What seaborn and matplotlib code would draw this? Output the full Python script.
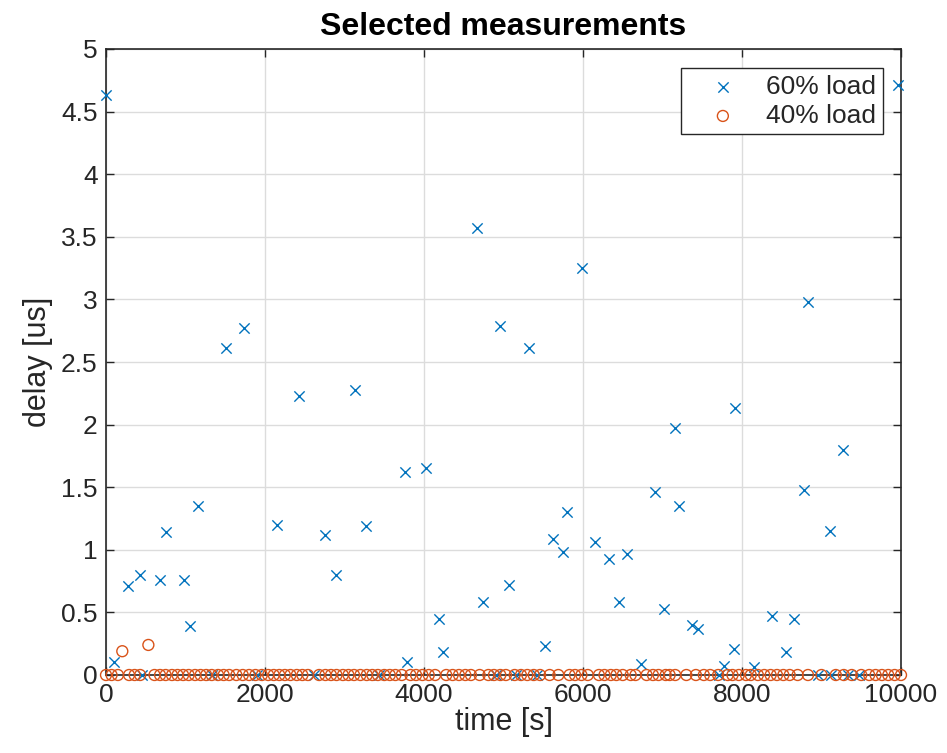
import matplotlib
matplotlib.use("Agg")
import matplotlib.pyplot as plt
import pandas as pd
import seaborn as sns

# ---- data ----
# 60% load: non-zero delays
t60_nz = [0, 101, 281, 428, 680, 759, 986, 1058, 1162, 1511, 1742, 2150, 2422, 2754,
          2897, 3127, 3275, 3757, 3787, 4030, 4185, 4236, 4664, 4744, 4962, 5067,
          5319, 5516, 5621, 5747, 5793, 5990, 6147, 6324, 6451, 6557, 6734, 6906,
          7013, 7163, 7210, 7372, 7444, 7772, 7900, 7915, 8152, 8380, 8553, 8654,
          8785, 8835, 9109, 9270, 9960]
d60_nz = [4.63, 0.10, 0.71, 0.80, 0.76, 1.14, 0.76, 0.39, 1.35, 2.61, 2.77, 1.20, 2.23, 1.12,
          0.80, 2.28, 1.19, 1.62, 0.10, 1.65, 0.45, 0.18, 3.57, 0.58, 2.79, 0.72,
          2.61, 0.23, 1.09, 0.98, 1.30, 3.25, 1.06, 0.93, 0.58, 0.97, 0.085, 1.46,
          0.53, 1.97, 1.35, 0.40, 0.37, 0.07, 0.21, 2.13, 0.06, 0.47, 0.18, 0.45,
          1.48, 2.98, 1.15, 1.80, 4.71]
# 60% load: samples with zero delay (visible ones)
t60_zero = [450, 1331, 1898, 2611, 3429, 4900, 5151, 5424, 7712, 8951, 9118, 9329, 9475]

# 40% load: non-zero delays
t40_nz = [205, 533]
d40_nz = [0.19, 0.24]
# 40% load: samples with zero delay
t40_zero = [0, 70, 150, 290, 360, 430, 610, 680, 750, 830, 900, 970, 1040, 1120, 1190,
            1260, 1330, 1410, 1480, 1550, 1640, 1720, 1800, 1880, 1960, 2040, 2110, 2180,
            2250, 2320, 2400, 2470, 2540, 2680, 2760, 2830, 2900, 2980, 3050, 3120, 3200,
            3280, 3350, 3420, 3500, 3570, 3640, 3720, 3830, 3900, 3980, 4060, 4140, 4280,
            4360, 4440, 4520, 4590, 4700, 4810, 4880, 4960, 5030, 5140, 5220, 5300, 5380,
            5460, 5580, 5690, 5830, 5900, 5980, 6060, 6200, 6270, 6350, 6420, 6500, 6600,
            6660, 6800, 6880, 6950, 7040, 7090, 7160, 7300, 7420, 7520, 7600, 7700, 7820,
            7880, 7960, 8050, 8110, 8200, 8280, 8360, 8440, 8520, 8600, 8700, 8830, 9000,
            9180, 9280, 9380, 9500, 9600, 9680, 9760, 9840, 9920, 10000]

x_ticks = [0, 2000, 4000, 6000, 8000, 10000]
y_ticks = [0, 0.5, 1, 1.5, 2, 2.5, 3, 3.5, 4, 4.5, 5]
y_ticklabels = ["0", "0.5", "1", "1.5", "2", "2.5", "3", "3.5", "4", "4.5", "5"]

df60 = pd.DataFrame({"time": t60_nz + t60_zero,
                     "delay": d60_nz + [0.0] * len(t60_zero)})
df40 = pd.DataFrame({"time": t40_zero + t40_nz,
                     "delay": [0.0] * len(t40_zero) + d40_nz})

# ---- styling ----
sns.set_style("white")
plt.rcParams["font.family"] = ["Liberation Sans", "DejaVu Sans"]

BLUE = "#0072BD"
ORANGE = "#D95319"
AXC = "#262626"

fig = plt.figure(figsize=(9.47, 7.53), dpi=100)
ax = fig.add_axes([106 / 947, 1 - 675 / 753, (901 - 106) / 947, (675 - 49) / 753])

sns.scatterplot(data=df60, x="time", y="delay", marker="x", color=BLUE, s=55,
                linewidth=1.0, ax=ax, label="60% load", zorder=3, clip_on=False)
sns.scatterplot(data=df40, x="time", y="delay", marker="o", color="none",
                edgecolor=ORANGE, s=62, linewidth=1.0, ax=ax, label="40% load",
                zorder=4, clip_on=False)

ax.set_xlim(0, 10000)
ax.set_ylim(0, 5)
ax.set_xticks(x_ticks)
ax.set_xticklabels([str(v) for v in x_ticks])
ax.set_yticks(y_ticks)
ax.set_yticklabels(y_ticklabels)

ax.grid(True, color="#dcdcdc", linewidth=1.0, zorder=0)
ax.set_axisbelow(True)
for sp in ax.spines.values():
    sp.set_visible(True)
    sp.set_color(AXC)
    sp.set_linewidth(1.2)
ax.tick_params(axis="both", direction="in", length=6, width=1.0, color=AXC,
               labelsize=19, labelcolor=AXC, top=True, right=True,
               bottom=True, left=True, pad=6)

ax.set_xlabel("time [s]", fontsize=22, color=AXC, labelpad=0)
ax.set_ylabel("delay [us]", fontsize=22, color=AXC, labelpad=6)
ax.set_title("Selected measurements", fontsize=23, fontweight="bold",
             color="black", pad=10)

leg = ax.legend(loc="upper right", bbox_to_anchor=((883 - 106) / 795, (675 - 68) / 626),
                borderaxespad=0, fancybox=False, framealpha=1, edgecolor=AXC,
                fontsize=19, handletextpad=0.3, borderpad=0.25, labelspacing=0.2,
                handlelength=2.7, markerscale=1.0)
leg.get_frame().set_linewidth(1.0)

fig.savefig("out.png", dpi=100)
